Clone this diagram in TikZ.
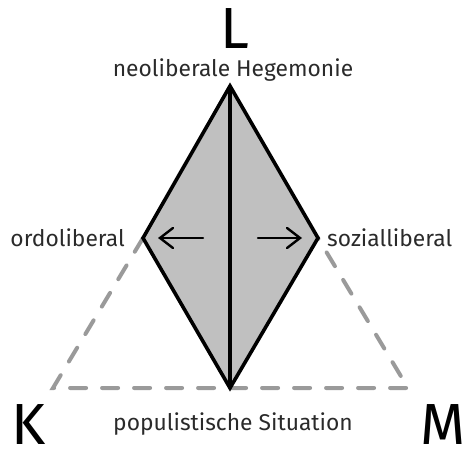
\documentclass[tikz,border=0pt]{standalone}
\usepackage{fontspec}
\setmainfont{Fira Sans}
\usetikzlibrary{arrows.meta}
\definecolor{txt}{HTML}{2A2A2A}
\definecolor{panel}{HTML}{C0C0C0}
\definecolor{dashgray}{HTML}{9A9A9A}
\tikzset{
  corner/.style={font=\fontsize{58}{58}\selectfont, text=black, inner sep=0pt, anchor=base},
  lbl/.style={font=\fontsize{22.8}{22.8}\selectfont, text=txt, inner sep=0pt},
  tri/.style={draw=dashgray, line width=4pt, dash pattern=on 16pt off 16pt, line cap=round},
  rim/.style={draw=black, line width=3.6pt, line join=miter},
  shiftarrow/.style={draw=black, line width=2.4pt, line cap=round,
    -{Straight Barb[length=13pt,width=20pt,line cap=round]}}
}
\begin{document}
\begin{tikzpicture}[x=1pt,y=-1pt]
\useasboundingbox (0,0) rectangle (463,449);
% corner points of the frame and of the inner rhombus
\coordinate (top) at (230,86);
\coordinate (lft) at (143,238);
\coordinate (rgt) at (318,238);
\coordinate (bot) at (230,388);
\coordinate (kc) at (53,388);
\coordinate (mc) at (408,388);
% dashed triangle legs and base
\draw[tri] (lft) -- (kc) -- (mc) -- (rgt);
% shaded rhombus with its axis
\fill[panel] (top) -- (rgt) -- (bot) -- (lft) -- cycle;
\draw[rim] (top) -- (rgt) -- (bot) -- (lft) -- cycle;
\draw[rim] (top) -- (bot);
% outward shifts
\coordinate (la) at (203,238);
\coordinate (lb) at (158,238);
\coordinate (ra) at (258,238);
\coordinate (rb) at (302,238);
\draw[shiftarrow] (la) -- (lb);
\draw[shiftarrow] (ra) -- (rb);
% labels
\node[corner] (L) at (235,49) {L};
\node[corner] (K) at (29,444) {K};
\node[corner] (M) at (443,444) {M};
\node[lbl] (neo) at (233,70) {neoliberale Hegemonie};
\node[lbl, anchor=east] (ordo) at (125,238) {ordoliberal};
\node[lbl, anchor=west] (sozi) at (327,238) {sozialliberal};
\node[lbl] (popu) at (233,424) {populistische Situation};
\end{tikzpicture}
\end{document}
